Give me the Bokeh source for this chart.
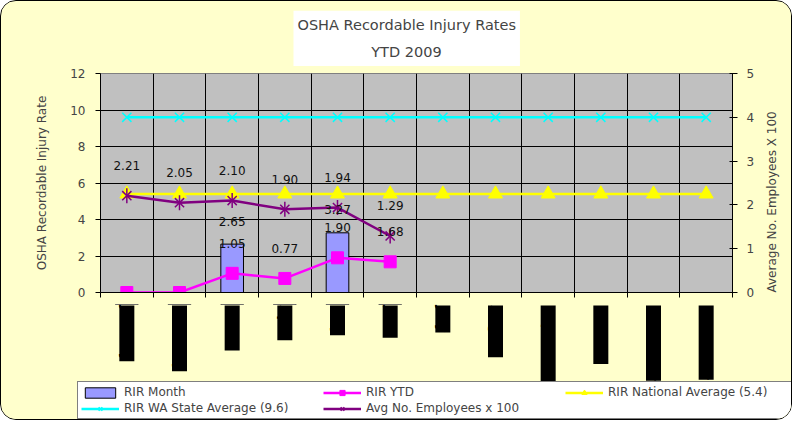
import math
from bokeh.plotting import figure
from bokeh.layouts import column
from bokeh.models import (ColumnDataSource, LabelSet, Range1d, LinearAxis,
                          FixedTicker, Legend, LegendItem)
from bokeh.core.properties import value
from bokeh.embed import file_html
from bokeh.resources import INLINE

# ---------------- data ----------------
months = ["January", "February", "March", "April", "May", "June",
          "July", "August", "September", "October", "November", "December"]
rir_month = [0.0, 0.0, 2.65, 0.0, 3.27, 0.0]
rir_ytd = [0.0, 0.0, 1.05, 0.77, 1.90, 1.68]
rir_national = [5.4, 5.4, 5.4, 5.4, 5.4, 5.4, 5.4, 5.4, 5.4, 5.4, 5.4, 5.4]
rir_wa = [9.6, 9.6, 9.6, 9.6, 9.6, 9.6, 9.6, 9.6, 9.6, 9.6, 9.6, 9.6]
avg_employees = [2.21, 2.05, 2.10, 1.90, 1.94, 1.29]
left_ticks = [0, 2, 4, 6, 8, 10, 12]
right_ticks = [0, 1, 2, 3, 4, 5]
title_lines = ["OSHA Recordable Injury Rates", "YTD 2009"]

# ---------------- styling / layout constants ----------------
FONT = "DejaVu Sans"
YELLOW = "#FFFFCC"
C_BAR, C_YTD, C_NAT, C_WA, C_EMP = "#9999FF", "#FF00FF", "#FFFF00", "#00FFFF", "#800080"
W = 790
ML, MR, MT, MB = 99, 59, 71, 12
FRAME_H = 220
H_MAIN = MT + FRAME_H + MB
H_BOT = 115

xs = list(range(1, len(months) + 1))
bounds = [i + 0.5 for i in range(0, len(months) + 1)]
x_lo, x_hi = 0.5, len(months) + 0.5

p = figure(width=W, height=H_MAIN, x_range=Range1d(x_lo, x_hi),
           y_range=Range1d(left_ticks[0], left_ticks[-1]), output_backend="svg",
           toolbar_location=None, min_border_left=ML, min_border_right=MR,
           min_border_top=MT, min_border_bottom=MB, background_fill_color="#C0C0C0",
           border_fill_color=YELLOW, outline_line_color="#808080")
p.extra_y_ranges = {"emp": Range1d(right_ticks[0], right_ticks[-1])}

# title (two lines, second centred with no-break spaces, white box)
p.title.text = title_lines[0] + "\n" + "\u00a0" * 16 + title_lines[1]
p.title.align = "left"
p.title.offset = 193
p.title.text_font = FONT
p.title.text_font_size = "14.5px"
p.title.text_font_style = "normal"
p.title.text_line_height = 1.7
p.title.background_fill_color = "white"
p.title.standoff = 15
if hasattr(p.title, "padding"):
    p.title.padding = (4, 6)

# grids
p.ygrid.ticker = FixedTicker(ticks=left_ticks)
p.ygrid.grid_line_color = "black"
p.xgrid.ticker = FixedTicker(ticks=bounds)
p.xgrid.grid_line_color = "black"

# bottom axis: only tick marks at the category boundaries (no labels)
xa = p.xaxis[0]
xa.ticker = FixedTicker(ticks=[], minor_ticks=bounds)
xa.major_tick_line_color = None
xa.minor_tick_out = 5
xa.minor_tick_in = 0
xa.minor_tick_line_color = "black"
xa.major_label_standoff = 0
xa.axis_line_color = "black"

# left axis
ya = p.yaxis[0]
ya.ticker = FixedTicker(ticks=left_ticks)
ya.axis_label = "OSHA Recordable Injury Rate"
ya.axis_label_text_font = FONT
ya.axis_label_text_font_size = "12px"
ya.axis_label_text_font_style = "normal"
ya.axis_label_standoff = 18
ya.major_label_text_font = FONT
ya.major_label_text_font_size = "12px"
ya.major_tick_out = 5
ya.major_tick_in = 0
ya.major_label_standoff = 10
ya.minor_tick_line_color = None
ya.axis_line_color = "black"

# right axis
ra = LinearAxis(y_range_name="emp", ticker=FixedTicker(ticks=right_ticks),
                axis_label="Average No. Employees X 100")
ra.axis_label_text_font = FONT
ra.axis_label_text_font_size = "12px"
ra.axis_label_text_font_style = "normal"
ra.axis_label_standoff = 15
ra.major_label_text_font = FONT
ra.major_label_text_font_size = "12px"
ra.major_tick_out = 5
ra.major_tick_in = 3
ra.major_label_standoff = 9
ra.minor_tick_line_color = None
ra.axis_line_color = "black"
if hasattr(ra, "axis_label_orientation") and hasattr(ra, "axis_label_align"):
    try:
        ra.axis_label_align = "start"
        ra.axis_label_orientation = math.pi / 2
    except Exception:
        ra.axis_label_orientation = "parallel"
p.add_layout(ra, "right")

# ---------------- glyphs ----------------
p.vbar(x=xs[:len(rir_month)], top=rir_month, width=0.43,
       fill_color=C_BAR, line_color="black", line_width=1)

p.line(xs[:len(rir_ytd)], rir_ytd, line_color=C_YTD, line_width=2.5)
p.scatter(xs[:len(rir_ytd)], rir_ytd, marker="square", size=12,
          fill_color=C_YTD, line_color=C_YTD)

p.line(xs, rir_national, line_color=C_NAT, line_width=2.5)
p.scatter(xs, rir_national, marker="triangle", size=14, fill_color=C_NAT, line_color=C_NAT)

p.line(xs, rir_wa, line_color=C_WA, line_width=2.5)
p.scatter(xs, rir_wa, marker="x", size=13, line_color=C_WA, line_width=1.5)

emp_x = xs[:len(avg_employees)]
p.line(emp_x, avg_employees, line_color=C_EMP, line_width=2.5, y_range_name="emp")
p.scatter(emp_x, avg_employees, marker="x", size=13, line_color=C_EMP,
          line_width=1.5, y_range_name="emp")
p.scatter(emp_x, avg_employees, marker="dash", angle=math.pi / 2, size=15,
          line_color=C_EMP, line_width=1.5, y_range_name="emp")

# ---------------- data labels ----------------
def lbl_source(vals):
    pts = [(xs[i], v, f"{v:.2f}") for i, v in enumerate(vals) if v != 0]
    return ColumnDataSource(dict(x=[a for a, _, _ in pts], y=[b for _, b, _ in pts],
                                 t=[c for _, _, c in pts]))

common = dict(text_font=value(FONT), text_font_size="12px", text_color="#111111",
              text_align="center", text_baseline="middle")
p.add_layout(LabelSet(x="x", y="y", text="t", source=lbl_source(rir_month),
                      y_offset=23, **common))
p.add_layout(LabelSet(x="x", y="y", text="t", source=lbl_source(rir_ytd),
                      y_offset=30, **common))
p.add_layout(LabelSet(x="x", y="y", text="t", source=lbl_source(avg_employees),
                      y_offset=30, y_range_name="emp", **common))

# ---------------- bottom strip: month labels (black blocks) + legend ----------------
aligned = not hasattr(p, "frame_align")
if not aligned:
    p.frame_align = False
px_per_unit = (W - ML - MR) / (x_hi - x_lo)
if aligned:
    bx_range = Range1d(x_lo, x_hi)
    bmin = dict(min_border_left=ML, min_border_right=MR)
else:
    bx_range = Range1d(x_lo - ML / px_per_unit, x_hi + MR / px_per_unit)
    bmin = dict(min_border_left=0, min_border_right=0)
pb = figure(width=W, height=H_BOT, x_range=bx_range, y_range=Range1d(0, 1),
            output_backend="svg", toolbar_location=None, min_border_top=0,
            min_border_bottom=0, background_fill_color=YELLOW,
            border_fill_color=YELLOW, outline_line_color=None, **bmin)
if not aligned:
    pb.frame_align = False
pb.xaxis.visible = False
pb.yaxis.visible = False
pb.grid.visible = False

msrc = ColumnDataSource(dict(x=xs, t=months))
pb.add_layout(LabelSet(x="x", y=H_BOT - 1, y_units="screen", text="t", source=msrc,
                       angle=-math.pi / 2, text_align="left", text_baseline="middle",
                       text_font=value(FONT), text_font_size="13px",
                       text_font_style="bold", text_color="black",
                       background_fill_color="black"))

# legend swatches: the series drawn on an off-screen range of the strip
pb.extra_y_ranges = {"off": Range1d(-2, -1)}
off = dict(y_range_name="off")
r_bar = pb.vbar(x=xs[:len(rir_month)], top=rir_month, width=0.43,
                fill_color=C_BAR, line_color="black", **off)
r_ytd_l = pb.line(xs[:len(rir_ytd)], rir_ytd, line_color=C_YTD, line_width=2.5, **off)
r_ytd_m = pb.scatter(xs[:len(rir_ytd)], rir_ytd, marker="square", size=10,
                     fill_color=C_YTD, line_color=C_YTD, **off)
r_nat_l = pb.line(xs, rir_national, line_color=C_NAT, line_width=2.5, **off)
r_nat_m = pb.scatter(xs, rir_national, marker="triangle", size=13,
                     fill_color=C_NAT, line_color=C_NAT, **off)
r_wa_l = pb.line(xs, rir_wa, line_color=C_WA, line_width=2.5, **off)
r_wa_m = pb.scatter(xs, rir_wa, marker="x", size=13, line_color=C_WA, line_width=1.5, **off)
r_emp_l = pb.line(emp_x, avg_employees, line_color=C_EMP, line_width=2.5, **off)
r_emp_m = pb.scatter(emp_x, avg_employees, marker="x", size=12, line_color=C_EMP,
                     line_width=1.5, **off)
r_emp_m2 = pb.scatter(emp_x, avg_employees, marker="dash", angle=math.pi / 2, size=14,
                      line_color=C_EMP, line_width=1.5, **off)

items = [
    LegendItem(label="RIR Month", renderers=[r_bar]),
    LegendItem(label="RIR YTD", renderers=[r_ytd_l, r_ytd_m]),
    LegendItem(label="RIR National Average (5.4)", renderers=[r_nat_l, r_nat_m]),
    LegendItem(label="RIR WA State Average (9.6)", renderers=[r_wa_l, r_wa_m]),
    LegendItem(label="Avg No. Employees x 100", renderers=[r_emp_l, r_emp_m, r_emp_m2]),
]
legend = Legend(items=items, location=(76 if not aligned else 76 - ML, 0),
                orientation="horizontal", ncols=3,
                background_fill_color="white", background_fill_alpha=1,
                border_line_color="black", label_text_font=FONT,
                label_text_font_size="12px", glyph_width=38, glyph_height=13,
                label_height=13, label_width=197, spacing=2, padding=3, margin=0,
                label_standoff=5)
pb.add_layout(legend)

lay = column(p, pb, spacing=0)
lay.styles = {"border": "1.5px solid black", "border-radius": "16px",
              "overflow": "hidden", "background-color": YELLOW}

open("out.html", "w").write(file_html(lay, INLINE))
